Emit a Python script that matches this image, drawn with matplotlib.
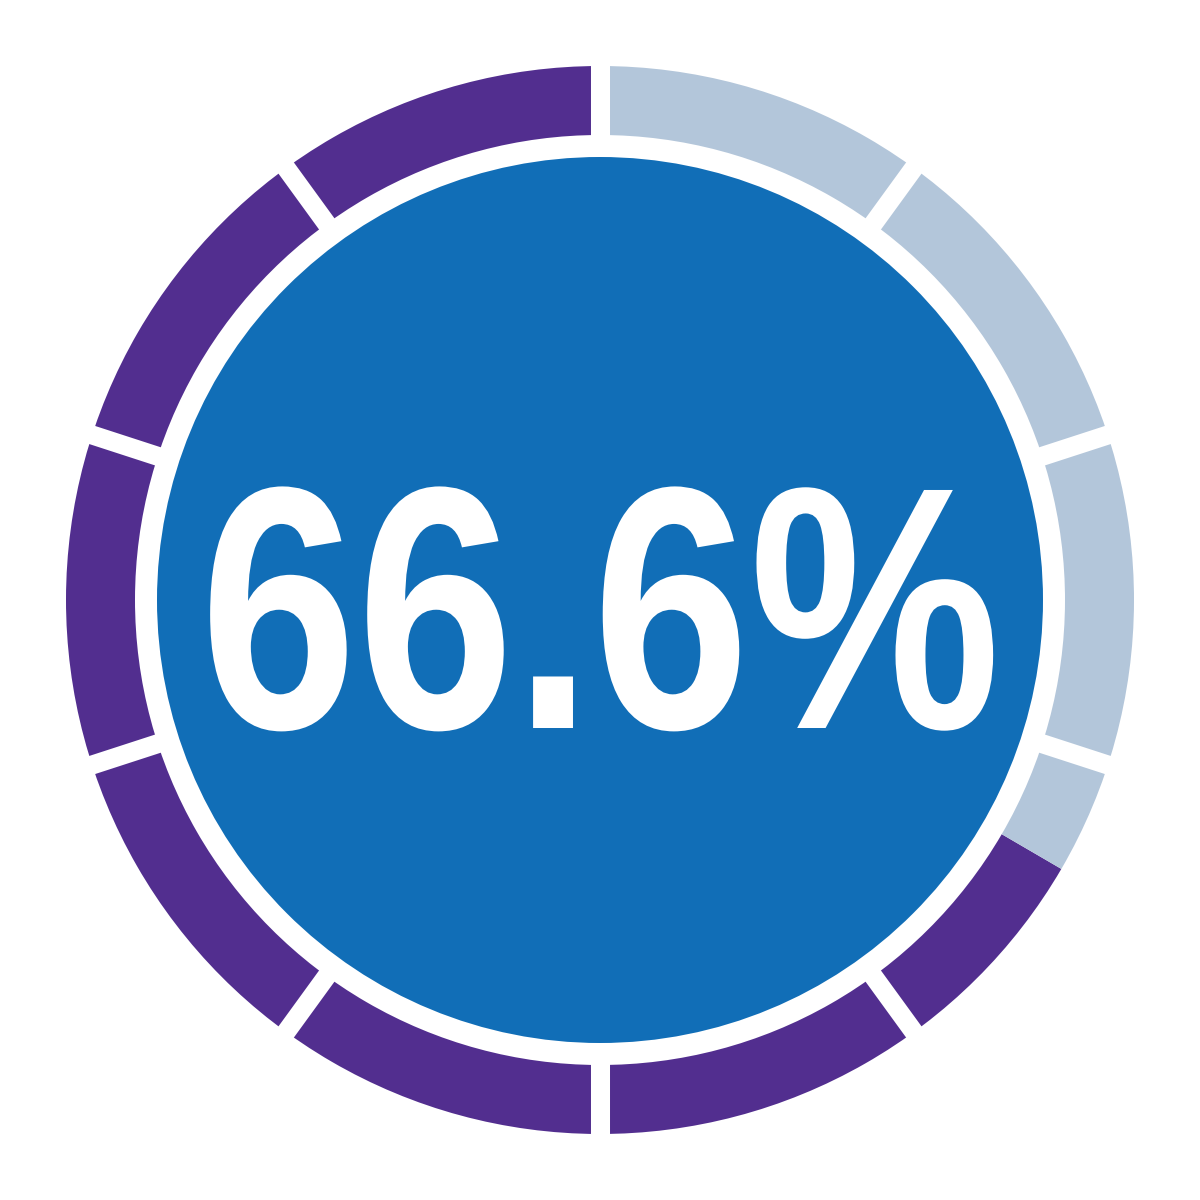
import numpy as np
import matplotlib
matplotlib.use("Agg")
import matplotlib.pyplot as plt
from matplotlib.patches import Circle
from matplotlib.patheffects import AbstractPathEffect
from matplotlib.font_manager import FontProperties
from matplotlib.textpath import TextPath
from matplotlib.transforms import Affine2D

# gauge data
value = 66.6                    # percent filled
n_segments = 10
shares = [value, 100 - value]
share_colors = ["#522E8F", "#B3C6DA"]
label = f"{value:.1f}%"

R_OUT, R_RING_IN, R_CORE = 534, 465, 443
DIGIT_H, TEXT_W = 245, 783      # px, ink size of the label in the reference


class Squeeze(AbstractPathEffect):
    """Draw text condensed horizontally about display x = cx."""
    def __init__(self, sx, cx):
        super().__init__()
        self.sx, self.cx = sx, cx

    def draw_path(self, renderer, gc, tpath, affine, rgbFace=None):
        t = affine + Affine2D().translate(-self.cx, 0).scale(self.sx, 1).translate(self.cx, 0)
        renderer.draw_path(gc, tpath, t, rgbFace)


fig = plt.figure(figsize=(12, 12), dpi=100)
ax = fig.add_axes([0, 0, 1, 1])

# outer ring: filled share counter-clockwise from 12 o'clock
ax.pie(shares, colors=share_colors, startangle=90, counterclock=True,
       radius=R_OUT, center=(0, 0), frame=True,
       wedgeprops=dict(width=R_OUT - R_RING_IN, linewidth=0))
ax.set_xlim(-600, 600)
ax.set_ylim(-600, 600)
ax.set_aspect("equal")
ax.axis("off")

# white separators between the segments
for k in range(n_segments):
    a = np.deg2rad(90 - k * 360 / n_segments)
    ax.plot([0, 560 * np.cos(a)], [0, 560 * np.sin(a)], color="white",
            lw=13.7, solid_capstyle="butt", zorder=3)

# centre disc
ax.add_patch(Circle((0, 0), R_CORE, facecolor="#116EB7", edgecolor="none", zorder=4))

# value label: size the font from its ink, then condense it to the reference width
fp = FontProperties(family=["Liberation Sans", "DejaVu Sans"], weight="bold")
ext6 = TextPath((0, 0), "6", size=100, prop=fp).get_extents()
extl = TextPath((0, 0), label, size=100, prop=fp).get_extents()
size_px = DIGIT_H / (ext6.height / 100)
sx = TEXT_W / (extl.width / 100 * size_px)
ax.text(0, -128, label, ha="center", va="baseline", color="white",
        fontsize=size_px * 72 / 100, fontproperties=fp, zorder=5,
        path_effects=[Squeeze(sx, 601)])

fig.savefig("out.png", dpi=100)
